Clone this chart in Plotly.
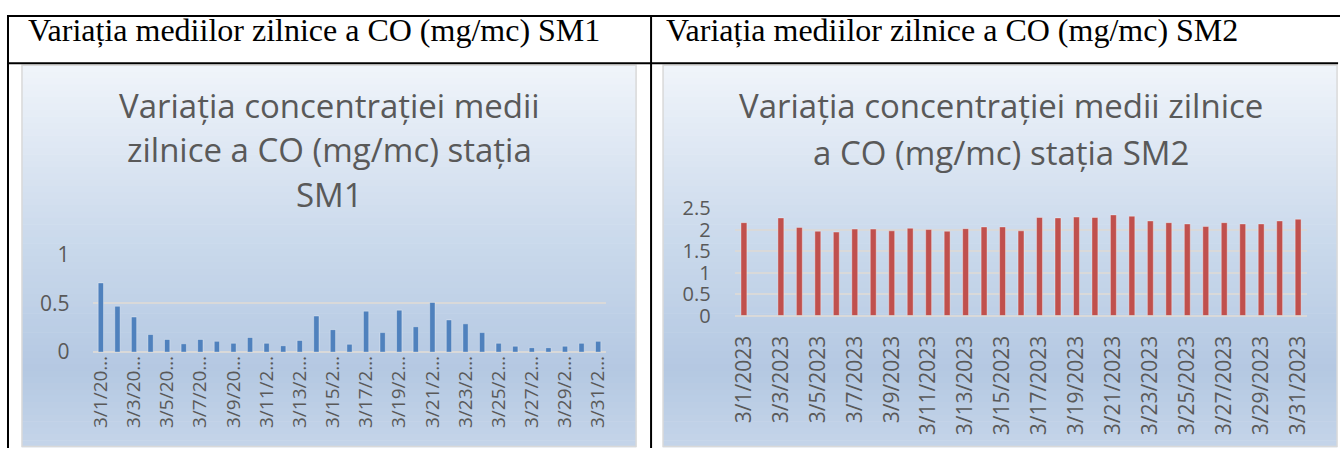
import plotly.graph_objects as go

W, H = 1344, 461

# ---------------- data ----------------
dates = ["3/1/2023", "3/2/2023", "3/3/2023", "3/4/2023", "3/5/2023", "3/6/2023", "3/7/2023",
         "3/8/2023", "3/9/2023", "3/10/2023", "3/11/2023", "3/12/2023", "3/13/2023", "3/14/2023",
         "3/15/2023", "3/16/2023", "3/17/2023", "3/18/2023", "3/19/2023", "3/20/2023", "3/21/2023",
         "3/22/2023", "3/23/2023", "3/24/2023", "3/25/2023", "3/26/2023", "3/27/2023", "3/28/2023",
         "3/29/2023", "3/30/2023", "3/31/2023"]

sm1_values = [0.71, 0.47, 0.36, 0.18, 0.13, 0.085, 0.13, 0.11, 0.09, 0.15, 0.09, 0.065, 0.12, 0.37,
              0.23, 0.08, 0.42, 0.20, 0.43, 0.26, 0.51, 0.33, 0.29, 0.20, 0.09, 0.06, 0.045, 0.045,
              0.06, 0.09, 0.11]

sm2_values = [2.16, None, 2.27, 2.05, 1.96, 1.94, 2.01, 2.01, 1.97, 2.03, 2.00, 1.96, 2.02, 2.06,
              2.06, 1.97, 2.28, 2.27, 2.29, 2.28, 2.34, 2.31, 2.20, 2.16, 2.13, 2.07, 2.16, 2.13,
              2.13, 2.20, 2.24]

tick_dates = ["3/1/2023", "3/3/2023", "3/5/2023", "3/7/2023", "3/9/2023", "3/11/2023", "3/13/2023",
              "3/15/2023", "3/17/2023", "3/19/2023", "3/21/2023", "3/23/2023", "3/25/2023",
              "3/27/2023", "3/29/2023", "3/31/2023"]
sm1_tick_labels = ["3/1/20…", "3/3/20…", "3/5/20…", "3/7/20…", "3/9/20…", "3/11/2…", "3/13/2…",
                   "3/15/2…", "3/17/2…", "3/19/2…", "3/21/2…", "3/23/2…", "3/25/2…", "3/27/2…",
                   "3/29/2…", "3/31/2…"]
sm2_tick_labels = tick_dates

header_sm1 = "Variația mediilor zilnice a CO (mg/mc) SM1"
header_sm2 = "Variația mediilor zilnice a CO (mg/mc) SM2"
title_sm1 = ["Variația concentrației medii", "zilnice a CO (mg/mc) stația", "SM1"]
title_sm2 = ["Variația concentrației medii zilnice", "a CO (mg/mc) stația SM2"]

# ---------------- layout helpers ----------------
# positions below are given in target-picture pixels and mapped onto the figure
SX, OX = 0.994, 6.0
SY, OY = 0.941, 12.6

def fx(x):
    return (x - OX) / SX

def fy(y):
    return (y - OY) / SY

def px(x):
    return min(max(fx(x) / W, 0), 1)

def py(y):
    return min(max(1 - fy(y) / H, 0), 1)

GRAY = "#595959"
GRID = "#d9d9d9"
LABEL_FONT = dict(family="Open Sans", size=21, color=GRAY)
TITLE_FONT = dict(family="Open Sans", size=33, color=GRAY)
HEADER_FONT = dict(family="Liberation Serif", size=32, color="black")

grad_stops = [(0.0, (240, 244, 250)), (0.45, (203, 218, 236)), (0.8, (180, 200, 226)), (1.0, (197, 213, 233))]

def grad_color(t):
    for (t0, c0), (t1, c1) in zip(grad_stops[:-1], grad_stops[1:]):
        if t0 <= t <= t1:
            f = (t - t0) / (t1 - t0)
            c = [round(a + (b - a) * f) for a, b in zip(c0, c1)]
            return "rgb(%d,%d,%d)" % tuple(c)
    return "rgb(%d,%d,%d)" % grad_stops[-1][1]

shapes = []

def gradient_box(x0, y0, x1, y1, n=60):
    h = (y1 - y0) / n
    for i in range(n):
        shapes.append(dict(type="rect", xref="paper", yref="paper", layer="below",
                           x0=px(x0), x1=px(x1), y0=py(y0 + i * h), y1=py(y0 + (i + 1) * h + 0.6),
                           fillcolor=grad_color((i + 0.5) / n), line=dict(width=0)))
    shapes.append(dict(type="rect", xref="paper", yref="paper", layer="below",
                       x0=px(x0), x1=px(x1), y0=py(y0), y1=py(y1),
                       fillcolor="rgba(0,0,0,0)", line=dict(color="#d9d9d9", width=1.5)))

gradient_box(22, 63, 637, 445)
gradient_box(664, 63, 1339, 445)

def hline(y, x0, x1):
    shapes.append(dict(type="line", xref="paper", yref="paper", x0=px(x0), x1=px(x1),
                       y0=py(y), y1=py(y), line=dict(color="black", width=2)))

def vline(x, y0, y1):
    shapes.append(dict(type="line", xref="paper", yref="paper", x0=px(x), x1=px(x),
                       y0=py(y0), y1=py(y1), line=dict(color="black", width=2)))

hline(13.6, 7, 1350)
hline(61, 7, 1340)
vline(8, 13, 470)
vline(652, 13, 470)

# ---------------- figure ----------------
fig = go.Figure()
fig.add_trace(go.Bar(x=dates, y=sm1_values, xaxis="x", yaxis="y",
                     marker=dict(color="#4f81bd", line=dict(color="rgba(255,255,255,0.35)", width=1))))
fig.add_trace(go.Bar(x=dates, y=sm2_values, xaxis="x2", yaxis="y2",
                     marker=dict(color="#c0504d", line=dict(color="rgba(255,255,255,0.35)", width=1))))

annotations = [
    dict(text=header_sm1, x=px(26), y=py(28), xref="paper", yref="paper", xanchor="left",
         yanchor="middle", showarrow=False, font=HEADER_FONT),
    dict(text=header_sm2, x=px(665), y=py(28), xref="paper", yref="paper", xanchor="left",
         yanchor="middle", showarrow=False, font=HEADER_FONT),
]
for line, yc in zip(title_sm1, [103, 147.5, 192.5]):
    annotations.append(dict(text=line, x=px(329.5), y=py(yc), xref="paper", yref="paper",
                            xanchor="center", yanchor="middle", showarrow=False, font=TITLE_FONT))
for line, yc in zip(title_sm2, [103, 150]):
    annotations.append(dict(text=line, x=px(1002), y=py(yc), xref="paper", yref="paper",
                            xanchor="center", yanchor="middle", showarrow=False, font=TITLE_FONT))

fig.update_layout(
    width=W, height=H, margin=dict(l=0, r=0, t=0, b=0),
    paper_bgcolor="white", plot_bgcolor="rgba(0,0,0,0)",
    showlegend=False, bargap=0.68,
    shapes=shapes, annotations=annotations,
    xaxis=dict(domain=[px(92.7), px(607.3)], anchor="y", type="category", categoryorder="array",
               categoryarray=dates, range=[-0.5, 30.5], showgrid=False, zeroline=False, showline=False,
               ticks="", tickmode="array", tickvals=tick_dates, ticktext=sm1_tick_labels,
               tickangle=-90, tickfont=dict(family="Open Sans", size=19, color=GRAY),
               ticklabelstandoff=-1),
    yaxis=dict(domain=[py(350.3), py(252.7)], anchor="x", range=[0, 1], dtick=0.5,
               showgrid=True, gridcolor=GRID, gridwidth=2, zeroline=True, zerolinecolor=GRID,
               zerolinewidth=2, showline=False, ticks="", tickfont=LABEL_FONT, ticklabelstandoff=22),
    xaxis2=dict(domain=[px(735.75), px(1309.25)], anchor="y2", type="category", categoryorder="array",
                categoryarray=dates, range=[-0.5, 30.5], showgrid=False, zeroline=False, showline=False,
                ticks="", tickmode="array", tickvals=tick_dates, ticktext=sm2_tick_labels,
                tickangle=-90, tickfont=dict(family="Open Sans", size=21, color=GRAY),
                ticklabelstandoff=15),
    yaxis2=dict(domain=[py(313.7), py(206)], anchor="x2", range=[0, 2.5], dtick=0.5,
                showgrid=True, gridcolor=GRID, gridwidth=2, zeroline=True, zerolinecolor=GRID,
                zerolinewidth=2, showline=False, ticks="", tickfont=dict(family="Open Sans", size=20, color=GRAY),
                ticklabelstandoff=23),
)

fig.write_html(
    "out.html", config={"displayModeBar": False},
    post_script=("var d=document.getElementById('{plot_id}');"
                 "d.style.position='fixed';d.style.left='0px';d.style.top='0px';"
                 "document.documentElement.style.overflow='hidden';"
                 "document.body.style.margin='0';document.body.style.overflow='hidden';"))
